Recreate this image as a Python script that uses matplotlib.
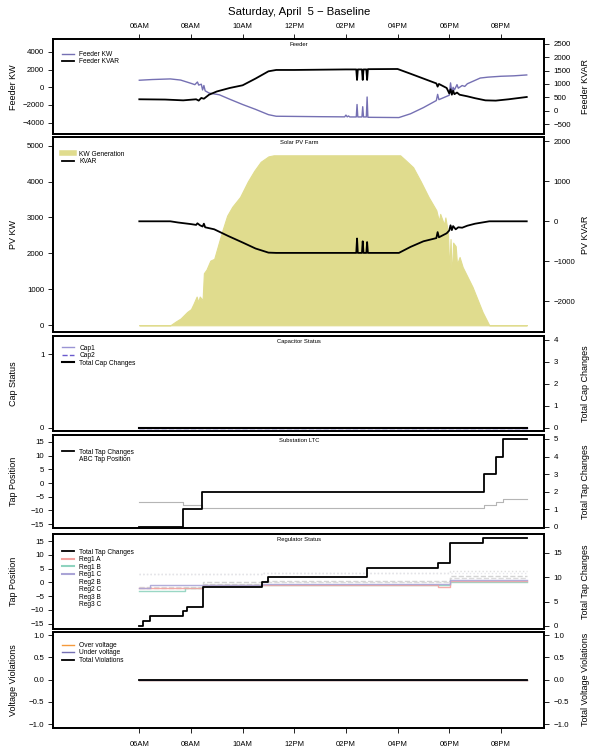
import matplotlib
matplotlib.use('Agg')
import numpy as np
import matplotlib.pyplot as plt
from matplotlib.lines import Line2D

plt.rcParams['font.family'] = ['Liberation Sans', 'DejaVu Sans']

# ---- data (hours of day) ----
hour_ticks = [6, 8, 10, 12, 14, 16, 18, 20]
hour_labels = ['06AM', '08AM', '10AM', '12PM', '02PM', '04PM', '06PM', '08PM']

feeder_kw_t = [6.0, 6.5, 7.2, 7.6, 8.0, 8.15, 8.25, 8.3, 8.4, 8.45, 8.5, 8.55, 8.7, 9.1, 9.5,
               10.0, 10.5, 11.0, 11.3, 12.0, 13.0, 13.95, 14.0, 14.05, 14.1, 14.15, 14.4,
               14.43, 14.46, 14.62, 14.65, 14.68, 14.79, 14.82, 14.85, 16.05, 16.5, 17.0,
               17.5, 17.55, 17.6, 18.0, 18.05, 18.1, 18.15, 18.2, 18.3, 18.35, 18.5, 18.6,
               18.7, 19.2, 19.5, 20.0, 20.5, 21.0]
feeder_kw = [800, 880, 950, 820, 450, 300, 600, 250, 350, -300, 200, -400, -650, -850, -1350,
             -1950, -2500, -3100, -3280, -3300, -3330, -3350, -3150, -3350, -3250, -3360, -3360,
             -1950, -3360, -3360, -2200, -3360, -3360, -1100, -3400, -3430, -3000, -2300,
             -1500, -800, -1400, -900, 500, -600, 0, -300, 300, -100, 200, 100,
             400, 1050, 1150, 1250, 1300, 1400]

feeder_kvar_t = [6.0, 7.0, 7.7, 8.2, 8.3, 8.4, 8.5, 8.7, 9.0, 9.5, 10.0, 10.5, 11.0, 11.3,
                 12.0, 14.0, 14.4, 14.43, 14.46, 14.62, 14.65, 14.68, 14.79, 14.82, 14.85,
                 16.0, 16.5, 17.0, 17.5, 17.55, 17.6, 17.9, 18.0, 18.05, 18.1, 18.15, 18.2,
                 18.3, 18.4, 18.7, 19.0, 19.4, 19.8, 20.3, 21.0]
feeder_kvar = [430, 420, 390, 430, 380, 480, 450, 600, 720, 850, 950, 1200, 1470, 1520,
               1520, 1540, 1540, 1150, 1540, 1540, 1150, 1540, 1540, 1150, 1550,
               1556, 1380, 1200, 1020, 900, 1000, 850, 650, 800, 600, 750, 620,
               680, 600, 540, 470, 390, 380, 430, 515]

pv_kw_t = [6.0, 7.2, 7.4, 7.6, 7.85, 8.0, 8.1, 8.22, 8.28, 8.34, 8.45, 8.5, 8.6, 8.75, 8.9,
           9.0, 9.2, 9.4, 9.6, 9.9, 10.2, 10.45, 10.7, 11.0, 11.2, 16.1, 16.3, 16.6, 16.9,
           17.2, 17.5, 17.6, 17.65, 17.8, 17.85, 17.95, 18.0, 18.05, 18.1, 18.15, 18.25,
           18.3, 18.4, 18.52, 18.9, 19.29, 19.55, 21.0]
pv_kw = [0, 0, 100, 190, 370, 450, 600, 800, 650, 800, 700, 1450, 1550, 1800, 1850,
         2100, 2600, 3050, 3300, 3570, 4000, 4300, 4550, 4700, 4730, 4730, 4600, 4400, 4000,
         3570, 3200, 2900, 3100, 2800, 3000, 2600, 1500, 2400, 1300, 2300, 2200,
         1700, 1900, 1620, 1070, 370, 0, 0]

pv_kvar_t = [6.0, 7.2, 7.5, 8.0, 8.2, 8.25, 8.35, 8.45, 8.5, 8.55, 8.9, 9.45, 10.0, 10.5,
             11.0, 11.3, 14.4, 14.43, 14.46, 14.62, 14.65, 14.68, 14.79, 14.82, 14.85,
             16.05, 16.5, 17.0, 17.5, 17.55, 17.6, 17.9, 18.0, 18.05, 18.1, 18.15, 18.25,
             18.35, 18.5, 18.7, 19.0, 19.55, 21.0]
pv_kvar = [0, 0, -30, -70, -90, -50, -100, -130, -60, -150, -200, -370, -530, -680,
           -783, -790, -790, -430, -790, -790, -500, -790, -790, -520, -790,
           -790, -640, -500, -420, -270, -400, -300, -230, -100, -220, -120, -200,
           -150, -160, -110, -60, 0, 0]

day_span = [6.0, 21.0]
cap1 = [0, 0]
cap2 = [0, 0]
cap_changes = [0, 0]

ltc_t = [6.0, 7.69, 8.43, 19.35, 19.8, 20.1, 21.0]
ltc_changes = [0, 1, 2, 3, 4, 5, 5]
ltc_tap = [-7, -8, -9, -8, -7, -6, -6]

reg_chg_t = [6.0, 6.15, 6.4, 7.69, 7.85, 8.45, 10.75, 11.0, 14.82, 17.55, 18.03, 19.3, 21.0]
reg_changes = [0, 1, 2, 3, 4, 8, 9, 10, 12, 13, 17, 18, 18]

reg_t = [6.0, 6.4, 7.75, 8.45, 10.75, 17.55, 18.03, 21.0]
reg1_a = [-2, -2, -2, -1, -1, -1.5, 0.5, 0.5]
reg1_b = [-3, -3, -2, -1, -1, -1, 0, 0]
reg1_c = [-2, -1, -1, -1, -0.5, -0.5, 1, 1]
reg2_b = [3, 3, 3, 3, 3.5, 3.5, 4, 4]
reg2_c = [-2, -2, -2, 0, 0.5, 0.5, 2.5, 2.5]
reg3_b = [-1.5, -1.5, -1.5, -0.5, 0, 0, 1.5, 1.5]
reg3_c = [3, 3, 3, 3, 3.5, 3.5, 3.5, 3.5]

over_v = [0, 0]
under_v = [0, 0]
total_v = [0, 0]

# ---- layout ----
W, H = 596, 752
XL, XR = 53.3, 544.3
XLIM = (2.67, 21.68)


def box(top, bottom):
    return [XL / W, 1 - bottom / H, (XR - XL) / W, (bottom - top) / H]


fig = plt.figure(figsize=(W / 100, H / 100), dpi=100)

panels = [(39.3, 134.3), (137.3, 332.3), (336.0, 431.5), (435.3, 528.0),
          (534.3, 629.3), (631.7, 727.7)]


def make(i, left_lab, right_lab, title=None):
    top, bot = panels[i]
    ax = fig.add_axes(box(top, bot))
    ax.patch.set_alpha(0)
    axr = ax.twinx()
    for a in (ax, axr):
        a.set_xlim(*XLIM)
        a.tick_params(direction='out', length=3.5, width=0.6, labelsize=5.7, pad=3)
        for s in a.spines.values():
            s.set_linewidth(1.3)
    ax.tick_params(axis='x', bottom=False, labelbottom=False)
    ax.set_ylabel(left_lab, fontsize=6.5)
    axr.set_ylabel(right_lab, fontsize=6.5)
    ax.yaxis.set_label_coords(-0.072, 0.5)
    axr.yaxis.set_label_coords(1.0747, 0.5)
    if title:
        ax.text(0.5, 1 - 3.0 / (bot - top), title, transform=ax.transAxes,
                ha='center', va='top', fontsize=4.2)
    return ax, axr


def leg(i, axr, handles, labels, row_px):
    top, bot = panels[i]
    y = 1 - (row_px - 3.8) / (bot - top)
    axr.legend(handles, labels, loc='upper left', bbox_to_anchor=(0.0187, y),
               frameon=False, fontsize=4.8, borderaxespad=0, borderpad=0,
               handlelength=1.75, handletextpad=0.75, labelspacing=0.08)


# panel 1: feeder
ax, axr = make(0, 'Feeder KW', 'Feeder KVAR', 'Feeder')
l1, = ax.plot(feeder_kw_t, feeder_kw, color='#7570b3', lw=1.0)
l2, = axr.plot(feeder_kvar_t, feeder_kvar, color='black', lw=1.3)
ax.set_ylim(-5326, 5439)
ax.set_yticks([-4000, -2000, 0, 2000, 4000])
axr.set_ylim(-872, 2660)
axr.set_yticks([-500, 0, 500, 1000, 1500, 2000, 2500])
ax.xaxis.tick_top()
ax.set_xticks(hour_ticks)
ax.set_xticklabels(hour_labels)
ax.tick_params(axis='x', top=True, labeltop=True, bottom=False, labelbottom=False,
               labelsize=5.5, pad=3.5)
leg(0, axr, [l1, l2], ['Feeder KW', 'Feeder KVAR'], 15.4)
fig.text((XL + XR) / 2 / W, 1 - 12 / H, 'Saturday, April  5 \u2212 Baseline',
         ha='center', va='center', fontsize=8.2)

# panel 2: solar pv
ax, axr = make(1, 'PV KW', 'PV KVAR', 'Solar PV Farm')
ax.fill_between(pv_kw_t, 0, pv_kw, color='#e0dc8e', lw=0.8, edgecolor='#e0dc8e')
l2, = axr.plot(pv_kvar_t, pv_kvar, color='black', lw=1.3)
ax.set_ylim(-195, 5231)
ax.set_yticks([0, 1000, 2000, 3000, 4000, 5000])
axr.set_ylim(-2775, 2100)
axr.set_yticks([-2000, -1000, 0, 1000, 2000])
leg(1, axr, [Line2D([], [], color='#e0dc8e', lw=4), l2], ['KW Generation', 'KVAR'], 17)

# panel 3: capacitors
ax, axr = make(2, 'Cap Status', 'Total Cap Changes', 'Capacitor Status')
c1, = ax.plot(day_span, cap1, color='#9a94d4', lw=1.0)
c2, = ax.plot(day_span, cap2, color='#6a5acd', lw=1.0, ls='--')
c3, = axr.step(day_span, cap_changes, where='post', color='black', lw=1.5)
ax.set_ylim(-0.048, 1.248)
ax.set_yticks([0, 1])
axr.set_ylim(-0.16, 4.16)
axr.set_yticks([0, 1, 2, 3, 4])
leg(2, axr, [c1, c2, c3], ['Cap1', 'Cap2', 'Total Cap Changes'], 12.3)

# panel 4: substation LTC
ax, axr = make(3, 'Tap Position', 'Total Tap Changes', 'Substation LTC')
ax.step(ltc_t, ltc_tap, where='post', color='#b5b5b5', lw=0.8)
t1, = axr.step(ltc_t, ltc_changes, where='post', color='black', lw=1.3)
ax.set_ylim(-16.4, 17.4)
ax.set_yticks([-15, -10, -5, 0, 5, 10, 15])
axr.set_ylim(-0.07, 5.21)
axr.set_yticks([0, 1, 2, 3, 4, 5])
leg(3, axr, [t1, Line2D([], [], color='none')], ['Total Tap Changes', 'ABC Tap Position'], 17)

# panel 5: regulators
ax, axr = make(4, 'Tap Position', 'Total Tap Changes', 'Regulator Status')
reg_series = [(reg2_b, '#dcdcdc', ':'), (reg3_c, '#e4e4ea', ':'), (reg2_c, '#d0d0d0', '--'),
              (reg3_b, '#d8d8d8', '--'), (reg1_b, '#8fd3bf', '-'), (reg1_a, '#f4a3a0', '-'),
              (reg1_c, '#aaa4d6', '-')]
for vals, col, ls in reg_series:
    ax.step(reg_t, vals, where='post', color=col, lw=1.0, ls=ls, alpha=0.9)
r0, = axr.step(reg_chg_t, reg_changes, where='post', color='black', lw=1.3)
ax.set_ylim(-17.1, 17.55)
ax.set_yticks([-15, -10, -5, 0, 5, 10, 15])
axr.set_ylim(-0.68, 18.84)
axr.set_yticks([0, 5, 10, 15])
blank = Line2D([], [], color='none')
leg(4, axr,
    [r0, Line2D([], [], color='#f4a3a0'), Line2D([], [], color='#8fd3bf'),
     Line2D([], [], color='#aaa4d6'), blank, blank, blank, blank],
    ['Total Tap Changes', 'Reg1 A', 'Reg1 B', 'Reg1 C', 'Reg2 B', 'Reg2 C', 'Reg3 B', 'Reg3 C'],
    18)

# panel 6: voltage violations
ax, axr = make(5, 'Voltage Violations', 'Total Voltage Violations')
v1, = ax.plot(day_span, over_v, color='#f59a3c', lw=1.0)
v2, = ax.plot(day_span, under_v, color='#7570b3', lw=1.0)
v3, = axr.step(day_span, total_v, where='post', color='black', lw=1.3)
ax.set_ylim(-1.08, 1.08)
axr.set_ylim(-1.08, 1.08)
for a in (ax, axr):
    a.set_yticks([-1.0, -0.5, 0.0, 0.5, 1.0])
    a.set_yticklabels(['\u22121.0', '\u22120.5', '0.0', '0.5', '1.0'])
ax.set_xticks(hour_ticks)
ax.set_xticklabels(hour_labels)
ax.tick_params(axis='x', bottom=True, labelbottom=True, labelsize=5.5, pad=6.0)
leg(5, axr, [v1, v2, v3], ['Over voltage', 'Under voltage', 'Total Violations'], 14)

fig.savefig('out.png', dpi=100)
